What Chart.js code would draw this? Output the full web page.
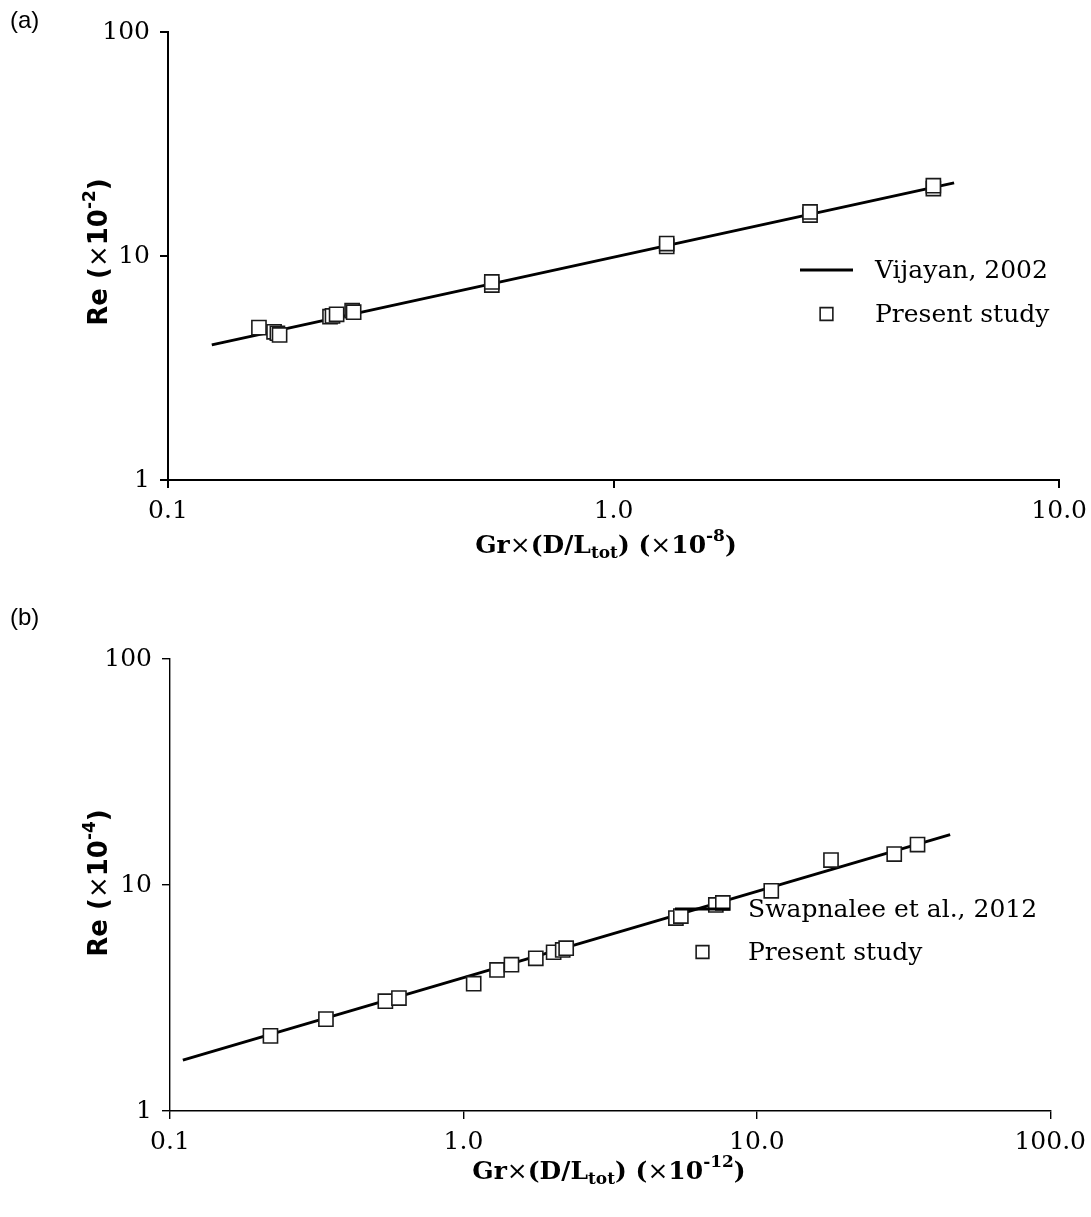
<!DOCTYPE html>
<html>
<head>
<meta charset="utf-8">
<script src="https://cdn.jsdelivr.net/npm/chart.js@4/dist/chart.umd.min.js"></script>
<style>
  html, body { margin: 0; padding: 0; background: #fff; }
  #wrap { position: relative; width: 1091px; height: 1217px; overflow: hidden; }
  .panel { position: absolute; left: 0; }
  .tag { position: absolute; left: 10px; font: 24px "Liberation Sans", Arial, sans-serif; color: #000; }
</style>
</head>
<body>
<div id="wrap">
  <div class="panel" style="top:0"><canvas id="chartA" width="1095" height="600"></canvas></div>
  <div class="panel" style="top:600px"><canvas id="chartB" width="1094" height="617"></canvas></div>
  <div class="tag" style="top:6px">(a)</div>
  <div class="tag" style="top:603px">(b)</div>
</div>
<script>
// ---- Panel (a): Re (x10^-2) vs Gr(D/Ltot) (x10^-8) ----
const corrA_x  = [0.1254, 5.81];            // Vijayan (2002) correlation, end points
const corrA_y  = [4.01, 21.2];
const studyA_x = [0.160, 0.173, 0.176, 0.178, 0.231, 0.234, 0.239, 0.259, 0.261,
                  0.533, 0.533, 1.316, 1.316, 2.76, 2.76, 5.22, 5.22];
const studyA_y = [4.79, 4.59, 4.52, 4.44, 5.36, 5.40, 5.49, 5.70, 5.61,
                  7.42, 7.66, 11.03, 11.37, 15.24, 15.72, 20.0, 20.6];
const xTicksA  = [0.1, 1, 10];
const xLabelsA = ['0.1', '1.0', '10.0'];

// ---- Panel (b): Re (x10^-4) vs Gr(D/Ltot) (x10^-12) ----
const corrB_x  = [0.1106, 45.6];            // Swapnalee et al. (2012) correlation, end points
const corrB_y  = [1.68, 16.7];
const studyB_x = [0.220, 0.340, 0.542, 0.603, 1.084, 1.302, 1.458, 1.765, 2.03, 2.18, 2.24,
                  5.30, 5.51, 7.25, 7.66, 11.2, 17.9, 29.4, 35.3];
const studyB_y = [2.15, 2.55, 3.06, 3.16, 3.66, 4.21, 4.44, 4.74, 5.04, 5.16, 5.25,
                  7.14, 7.29, 8.16, 8.33, 9.43, 12.9, 13.7, 15.1];
const xTicksB  = [0.1, 1, 10, 100];
const xLabelsB = ['0.1', '1.0', '10.0', '100.0'];

const yTicks  = [1, 10, 100];
const yLabels = ['1', '10', '100'];

const legendA = ['Vijayan, 2002', 'Present study'];
const legendB = ['Swapnalee et al., 2012', 'Present study'];

const SERIF = '"DejaVu Serif", "Liberation Serif", serif';
const SANS  = '"DejaVu Sans", "Liberation Sans", sans-serif';

const toXY = (xs, ys) => xs.map((x, i) => ({ x, y: ys[i] }));

// Draws a sequence of text runs (bold/normal, sub/superscript) centred on (cx, cy)
function drawRuns(ctx, runs, cx, cy, size, family, angle) {
  const fontOf = r => `${r.bold ? 'bold ' : ''}${r.sub || r.sup ? Math.round(size * 0.66) : size}px ${family}`;
  let total = 0;
  runs.forEach(r => { ctx.font = fontOf(r); r._w = ctx.measureText(r.t).width; total += r._w; });
  ctx.save();
  ctx.translate(cx, cy);
  if (angle) ctx.rotate(angle);
  ctx.fillStyle = '#000';
  ctx.textBaseline = 'middle';
  ctx.textAlign = 'left';
  let x = -total / 2;
  runs.forEach(r => {
    ctx.font = fontOf(r);
    const dy = r.sub ? size * 0.3 : r.sup ? -size * 0.36 : 0;
    ctx.fillText(r.t, x, dy);
    x += r._w;
  });
  ctx.restore();
}

// Axis titles with sub/superscripts
const axisTitles = {
  id: 'axisTitles',
  afterDraw(chart, args, o) {
    const ctx = chart.ctx;
    drawRuns(ctx, o.x.runs, o.x.cx, o.x.cy, o.x.size, o.x.family, 0);
    drawRuns(ctx, o.y.runs, o.y.cx, o.y.cy, o.y.size, o.y.family, -Math.PI / 2);
  }
};

// Legend drawn inside the plot area, using each dataset's own styling
const inlineLegend = {
  id: 'inlineLegend',
  afterDraw(chart, args, o) {
    const ctx = chart.ctx;
    chart.data.datasets.forEach((ds, i) => {
      const y = o.y + i * o.rowGap;
      ctx.save();
      if (ds.showLine) {
        ctx.strokeStyle = ds.borderColor;
        ctx.lineWidth = ds.borderWidth;
        ctx.beginPath();
        ctx.moveTo(o.x, y);
        ctx.lineTo(o.x + o.lineLen, y);
        ctx.stroke();
      } else {
        ctx.fillStyle = ds.backgroundColor;
        ctx.strokeStyle = ds.borderColor;
        ctx.lineWidth = ds.borderWidth;
        Chart.helpers.drawPoint(ctx, { pointStyle: 'rect', radius: o.markerRadius, rotation: 0, borderWidth: ds.borderWidth },
          o.x + o.lineLen / 2, y);
      }
      ctx.fillStyle = '#000';
      ctx.font = `${o.size}px ${SERIF}`;
      ctx.textBaseline = 'middle';
      ctx.textAlign = 'left';
      ctx.fillText(o.labels[i], o.textX, y + 1);
      ctx.restore();
    });
  }
};

function makeChart(id, cfg) {
  const axisCommon = (lineW) => ({
    type: 'logarithmic',
    grid: { display: true, drawOnChartArea: false, drawTicks: true, tickLength: 8, color: '#000', lineWidth: lineW },
    border: { display: true, color: '#000', width: lineW }
  });
  return new Chart(document.getElementById(id), {
    type: 'scatter',
    data: {
      datasets: [
        {
          label: cfg.legend[0],
          data: toXY(cfg.corrX, cfg.corrY),
          showLine: true,
          borderColor: '#000',
          borderWidth: 3,
          pointRadius: 0,
          order: 2
        },
        {
          label: cfg.legend[1],
          data: toXY(cfg.studyX, cfg.studyY),
          showLine: false,
          pointStyle: 'rect',
          pointRadius: 10,
          backgroundColor: '#fff',
          borderColor: '#1a1a1a',
          borderWidth: 1.6,
          order: 1
        }
      ]
    },
    options: {
      responsive: false,
      animation: false,
      events: [],
      layout: { padding: cfg.padding },
      plugins: {
        legend: { display: false },
        tooltip: { enabled: false },
        axisTitles: cfg.titles,
        inlineLegend: cfg.legendPos
      },
      scales: {
        x: Object.assign(axisCommon(cfg.axisW), {
          min: cfg.xTicks[0], max: cfg.xTicks[cfg.xTicks.length - 1],
          afterBuildTicks: s => { s.ticks = cfg.xTicks.map(v => ({ value: v })); },
          afterFit: s => { s.height = cfg.xAxisH; },
          ticks: {
            color: '#000', padding: 8, autoSkip: false, maxRotation: 0,
            font: { family: SERIF, size: 25 },
            callback: (v) => cfg.xLabels[cfg.xTicks.indexOf(v)] ?? ''
          }
        }),
        y: Object.assign(axisCommon(cfg.axisW), {
          min: yTicks[0], max: yTicks[yTicks.length - 1],
          afterBuildTicks: s => { s.ticks = yTicks.map(v => ({ value: v })); },
          afterFit: s => { s.width = cfg.yAxisW; },
          ticks: {
            color: '#000', padding: 10, autoSkip: false,
            font: { family: SERIF, size: 25 },
            callback: (v) => yLabels[yTicks.indexOf(v)] ?? ''
          }
        })
      }
    },
    plugins: [axisTitles, inlineLegend]
  });
}

makeChart('chartA', {
  corrX: corrA_x, corrY: corrA_y, studyX: studyA_x, studyY: studyA_y,
  xTicks: xTicksA, xLabels: xLabelsA, legend: legendA,
  axisW: 2, yAxisW: 168, xAxisH: 120,
  padding: { top: 32, right: 0, left: 0, bottom: 0 },
  titles: {
    x: { cx: 606, cy: 546, size: 25, family: SERIF, runs: [
      { t: 'Gr', bold: true }, { t: '×' }, { t: '(D/L', bold: true }, { t: 'tot', bold: true, sub: true },
      { t: ') (', bold: true }, { t: '×' }, { t: '10', bold: true }, { t: '-8', bold: true, sup: true }, { t: ')', bold: true } ] },
    y: { cx: 100, cy: 252, size: 26, family: SANS, runs: [
      { t: 'Re (', bold: true }, { t: '×' }, { t: '10', bold: true }, { t: '-2', bold: true, sup: true }, { t: ')', bold: true } ] }
  },
  legendPos: { x: 800, y: 270, lineLen: 53, textX: 875, rowGap: 44, markerRadius: 9, size: 25, labels: legendA }
});

makeChart('chartB', {
  corrX: corrB_x, corrY: corrB_y, studyX: studyB_x, studyY: studyB_y,
  xTicks: xTicksB, xLabels: xLabelsB, legend: legendB,
  axisW: 1.4, yAxisW: 170, xAxisH: 106,
  padding: { top: 59, right: 0, left: 0, bottom: 0 },
  titles: {
    x: { cx: 609, cy: 572, size: 25, family: SERIF, runs: [
      { t: 'Gr', bold: true }, { t: '×' }, { t: '(D/L', bold: true }, { t: 'tot', bold: true, sub: true },
      { t: ') (', bold: true }, { t: '×' }, { t: '10', bold: true }, { t: '-12', bold: true, sup: true }, { t: ')', bold: true } ] },
    y: { cx: 100, cy: 283, size: 26, family: SANS, runs: [
      { t: 'Re (', bold: true }, { t: '×' }, { t: '10', bold: true }, { t: '-4', bold: true, sup: true }, { t: ')', bold: true } ] }
  },
  legendPos: { x: 675, y: 309, lineLen: 55, textX: 748, rowGap: 43, markerRadius: 9, size: 25, labels: legendB }
});
</script>
</body>
</html>
